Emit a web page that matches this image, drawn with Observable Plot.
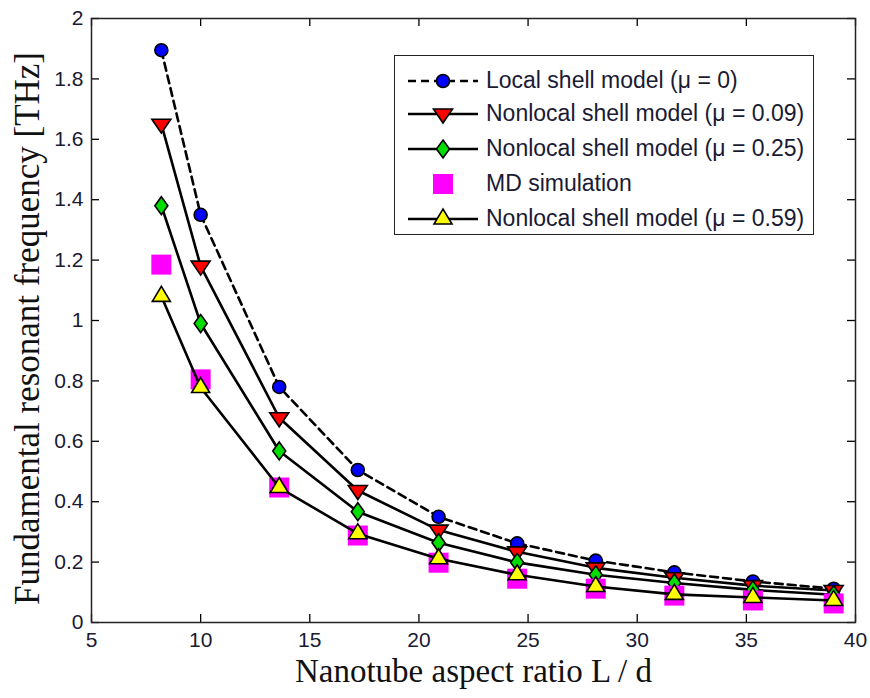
<!DOCTYPE html>
<html>
<head>
<meta charset="utf-8">
<script src="https://cdn.jsdelivr.net/npm/d3@7"></script>
<script src="https://cdn.jsdelivr.net/npm/@observablehq/plot@0.6"></script>
<style>
  html, body { margin: 0; padding: 0; background: #fff; }
  #wrap { position: relative; width: 870px; height: 698px; }
  #legend { position: absolute; left: 394px; top: 55px; width: 420px; height: 180px;
            border: 1.5px solid #222; background: #fff; box-sizing: border-box; }
  .row { position: absolute; left: 0; height: 34px; width: 100%; }
  .row svg { position: absolute; left: 12px; top: 0; }
  .row span { position: absolute; left: 91px; top: 50%; transform: translateY(-52%);
              font-family: "Liberation Sans", Arial, sans-serif; font-size: 23px; color: #1a1a33; white-space: nowrap; }
</style>
</head>
<body>
<div id="wrap"></div>
<script>
// ---- data ----
const aspectRatio = [8.2, 10.0, 13.6, 17.2, 20.9, 24.5, 28.1, 31.7, 35.3, 39.0];
const localMu0    = [1.895, 1.35, 0.78, 0.505, 0.35, 0.262, 0.205, 0.166, 0.136, 0.112];
const nonlocal009 = [1.65, 1.18, 0.678, 0.437, 0.306, 0.234, 0.181, 0.148, 0.122, 0.106];
const nonlocal025 = [1.38, 0.99, 0.568, 0.367, 0.264, 0.199, 0.158, 0.131, 0.108, 0.092];
const mdSim       = [1.185, 0.805, 0.447, 0.288, 0.198, 0.145, 0.112, 0.089, 0.073, 0.063];
const nonlocal059 = [1.08, 0.778, 0.447, 0.294, 0.211, 0.158, 0.119, 0.093, 0.083, 0.073];
const seriesNames = [
  "Local shell model (\u03bc = 0)",
  "Nonlocal shell model (\u03bc = 0.09)",
  "Nonlocal shell model (\u03bc = 0.25)",
  "MD simulation",
  "Nonlocal shell model (\u03bc = 0.59)"
];
const xTicks = [5, 10, 15, 20, 25, 30, 35, 40];
const yTicks = [0, 0.2, 0.4, 0.6, 0.8, 1, 1.2, 1.4, 1.6, 1.8, 2];

// ---- symbols ----
const symCircle = {draw(c) { c.moveTo(6.5, 0); c.arc(0, 0, 6.5, 0, 2 * Math.PI); c.closePath(); }};
const symDown = {draw(c) { c.moveTo(-9.5, -5); c.lineTo(9.5, -5); c.lineTo(0, 9); c.closePath(); }};
const symDiamond = {draw(c) { c.moveTo(0, -9); c.lineTo(6.5, 0); c.lineTo(0, 9); c.lineTo(-6.5, 0); c.closePath(); }};
const symSquare = {draw(c) { c.moveTo(-10, -10); c.lineTo(10, -10); c.lineTo(10, 10); c.lineTo(-10, 10); c.closePath(); }};
const symUp = {draw(c) { c.moveTo(-9, 5); c.lineTo(9, 5); c.lineTo(0, -10); c.closePath(); }};

const styles = [
  {vals: localMu0, sym: symCircle, fill: "#0000ff", dash: "8,5", line: true},
  {vals: nonlocal009, sym: symDown, fill: "#ff0000", dash: null, line: true},
  {vals: nonlocal025, sym: symDiamond, fill: "#00dd00", dash: null, line: true},
  {vals: mdSim, sym: symSquare, fill: "#ff00ff", dash: null, line: false},
  {vals: nonlocal059, sym: symUp, fill: "#ffff00", dash: null, line: true}
];

const W = 870, H = 698, mL = 91, mR = 15, mT = 18, mB = 76;
const pW = W - mL - mR, pH = H - mT - mB;
const tickLen = 8;

const marks = [];
styles.forEach((s, i) => {
  const data = aspectRatio.map((x, j) => ({x, y: s.vals[j]}));
  if (s.line) marks.push(Plot.line(data, {x: "x", y: "y", stroke: "#000", strokeWidth: 2.6,
    strokeDasharray: s.dash || undefined}));
  marks.push(Plot.dot(data, {x: "x", y: "y", symbol: s.sym, r: 5, fill: s.fill,
    stroke: s.line ? "#000" : "none", strokeWidth: 1.6}));
});

const tickFont = {fontSize: 21, fontFamily: "'Liberation Sans', Arial, sans-serif", fill: "#1a1a33"};

const plot = Plot.plot({
  width: W, height: H,
  marginLeft: mL, marginRight: mR, marginTop: mT, marginBottom: mB,
  x: {domain: [5, 40], label: null},
  y: {domain: [0, 2], label: null},
  style: {background: "#fff", overflow: "visible"},
  marks: [
    // inward ticks on all sides
    Plot.tickX(xTicks, {x: d => d, insetTop: pH - tickLen, stroke: "#000", strokeWidth: 1.3}),
    Plot.tickX(xTicks, {x: d => d, insetBottom: pH - tickLen, stroke: "#000", strokeWidth: 1.3}),
    Plot.tickY(yTicks, {y: d => d, insetRight: pW - tickLen, stroke: "#000", strokeWidth: 1.3}),
    Plot.tickY(yTicks, {y: d => d, insetLeft: pW - tickLen, stroke: "#000", strokeWidth: 1.3}),
    Plot.axisX(xTicks, {anchor: "bottom", tickSize: 0, tickPadding: 10, label: null, ...tickFont}),
    Plot.axisY(yTicks, {anchor: "left", tickSize: 0, tickPadding: 8, label: null,
      tickFormat: d3.format("~g"), ...tickFont}),
    ...marks,
    Plot.frame({stroke: "#222", strokeWidth: 1.5}),
    Plot.text(["Nanotube aspect ratio L / d"], {frameAnchor: "bottom", dy: 49, lineAnchor: "middle",
      textAnchor: "middle",
      fontSize: 33, fontFamily: "'Liberation Serif', 'Times New Roman', serif", fill: "#111"}),
    Plot.text(["Fundamental resonant frequency [THz]"], {frameAnchor: "left", dx: -64, dy: 8, rotate: -90,
      textAnchor: "middle", lineAnchor: "middle", fontSize: 35,
      fontFamily: "'Liberation Serif', 'Times New Roman', serif", fill: "#111"})
  ]
});

const wrap = document.getElementById("wrap");
wrap.appendChild(plot);

// ---- legend ----
const legend = document.createElement("div");
legend.id = "legend";
const rowTops = [8, 41, 76, 111, 146];
const svgNS = "http://www.w3.org/2000/svg";
styles.forEach((s, i) => {
  const row = document.createElement("div");
  row.className = "row";
  row.style.top = rowTops[i] + "px";
  const svg = document.createElementNS(svgNS, "svg");
  svg.setAttribute("width", 72); svg.setAttribute("height", 34);
  if (s.line) {
    const ln = document.createElementNS(svgNS, "line");
    ln.setAttribute("x1", 1); ln.setAttribute("x2", 71); ln.setAttribute("y1", 17); ln.setAttribute("y2", 17);
    ln.setAttribute("stroke", "#000"); ln.setAttribute("stroke-width", 2.5);
    if (s.dash) ln.setAttribute("stroke-dasharray", s.dash);
    svg.appendChild(ln);
  }
  const p = d3.path(); s.sym.draw(p);
  const path = document.createElementNS(svgNS, "path");
  path.setAttribute("d", p.toString());
  path.setAttribute("transform", "translate(36,17)");
  path.setAttribute("fill", s.fill);
  path.setAttribute("stroke", s.line ? "#000" : "none");
  path.setAttribute("stroke-width", 1.6);
  svg.appendChild(path);
  row.appendChild(svg);
  const sp = document.createElement("span");
  sp.textContent = seriesNames[i];
  row.appendChild(sp);
  legend.appendChild(row);
});
wrap.appendChild(legend);
</script>
</body>
</html>
